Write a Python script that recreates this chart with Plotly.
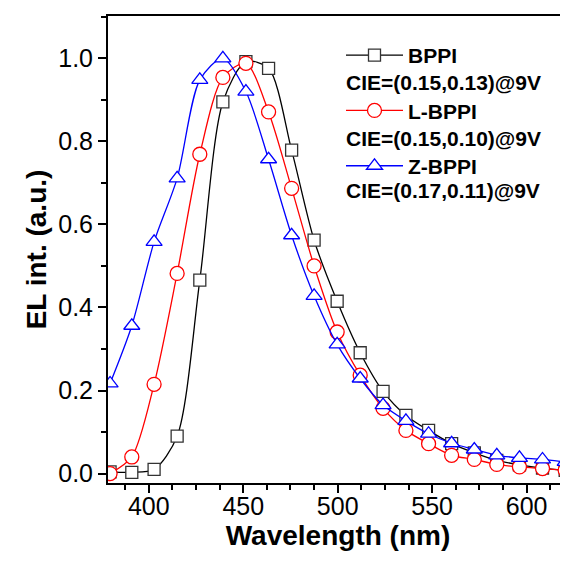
import plotly.graph_objects as go

wavelength = [379.5, 391.0, 402.8, 415.0, 427.0, 439.2, 451.4, 463.4, 475.6, 487.5, 499.7,
              511.9, 524.0, 536.1, 548.1, 560.3, 572.3, 584.2, 596.2, 608.4, 620.4]
bppi = [0.004, 0.003, 0.010, 0.090, 0.466, 0.895, 0.992, 0.976, 0.779, 0.562, 0.415,
        0.291, 0.198, 0.140, 0.104, 0.072, 0.050, 0.032, 0.021, 0.013, 0.008]
l_bppi = [0.000, 0.040, 0.215, 0.482, 0.769, 0.954, 0.988, 0.871, 0.687, 0.500, 0.341,
          0.237, 0.157, 0.104, 0.072, 0.044, 0.034, 0.022, 0.016, 0.012, 0.008]
z_bppi = [0.217, 0.356, 0.558, 0.711, 0.948, 1.000, 0.920, 0.757, 0.574, 0.428, 0.311,
          0.229, 0.165, 0.127, 0.096, 0.073, 0.058, 0.044, 0.038, 0.034, 0.028]

series_names = ["BPPI", "L-BPPI", "Z-BPPI"]
cie_labels = ["CIE=(0.15,0.13)@9V", "CIE=(0.15,0.10)@9V", "CIE=(0.17,0.11)@9V"]
x_ticks = [400, 450, 500, 550, 600]
y_ticks = [0.0, 0.2, 0.4, 0.6, 0.8, 1.0]

series = [bppi, l_bppi, z_bppi]
colors = ["#000000", "#FF0000", "#0000FF"]
symbols = ["square", "circle", "triangle-up"]
sizes = [12, 14, 14]

fig = go.Figure()
for i, (name, ys) in enumerate(zip(series_names, series)):
    fig.add_trace(go.Scatter(
        x=wavelength, y=ys, name=name, mode="lines+markers",
        legendgroup=name,
        line=dict(color=colors[i], width=1.3, shape="spline", smoothing=0.8),
        marker=dict(symbol=symbols[i], size=sizes[i], color="white",
                    line=dict(color=colors[i] if i else "#333333", width=1.3)),
    ))

font_fam = "Liberation Sans, Arial, sans-serif"

# page has an 8px body offset; plot area spans page x 108..568, y 16..483
cie_y_px = [83, 138, 190]
for i, lab in enumerate(cie_labels):
    fig.add_annotation(
        text=lab, xref="paper", yref="paper",
        x=(344 - 108) / 460, y=(483 - cie_y_px[i]) / 467,
        xanchor="left", yanchor="middle", showarrow=False,
        font=dict(family=font_fam, size=21, color="black", weight="bold"),
    )

fig.update_layout(
    width=568, height=571,
    margin=dict(l=100, r=8, t=8, b=96),
    paper_bgcolor="white", plot_bgcolor="white",
    font=dict(family=font_fam, color="black"),
    legend=dict(
        x=(341 - 108) / 460, y=(483 - 35) / 467, xanchor="left", yanchor="top",
        font=dict(family=font_fam, size=21, color="black", weight="bold"),
        bgcolor="rgba(0,0,0,0)", tracegroupgap=25, itemwidth=57,
    ),
    xaxis=dict(
        range=[378.4, 621.9], tickvals=x_ticks, automargin=False,
        ticks="outside", ticklen=8, tickwidth=2, tickcolor="black",
        ticklabelstandoff=-8,
        showline=True, linecolor="black", linewidth=2, mirror=True,
        showgrid=False, zeroline=False,
        tickfont=dict(family=font_fam, size=25, color="black"),
        minor=dict(dtick=12.5, tick0=400, ticks="outside", ticklen=5, tickwidth=2, tickcolor="black", showgrid=False),
        title=dict(text="<b>Wavelength (nm)</b>", font=dict(family=font_fam, size=28, color="black"), standoff=1),
    ),
    yaxis=dict(
        range=[-0.0227, 1.102], tickvals=y_ticks, tickformat=".1f", automargin=False,
        ticks="outside", ticklen=8, tickwidth=2, tickcolor="black",
        showline=True, linecolor="black", linewidth=2, mirror=False,
        showgrid=False, zeroline=False,
        tickfont=dict(family=font_fam, size=25, color="black"),
        minor=dict(dtick=0.1, tick0=0, ticks="outside", ticklen=5, tickwidth=2, tickcolor="black", showgrid=False),
        title=dict(text="<b>EL int. (a.u.)</b>", font=dict(family=font_fam, size=28, color="black"), standoff=3),
    ),
)

fig.write_html("out.html")
